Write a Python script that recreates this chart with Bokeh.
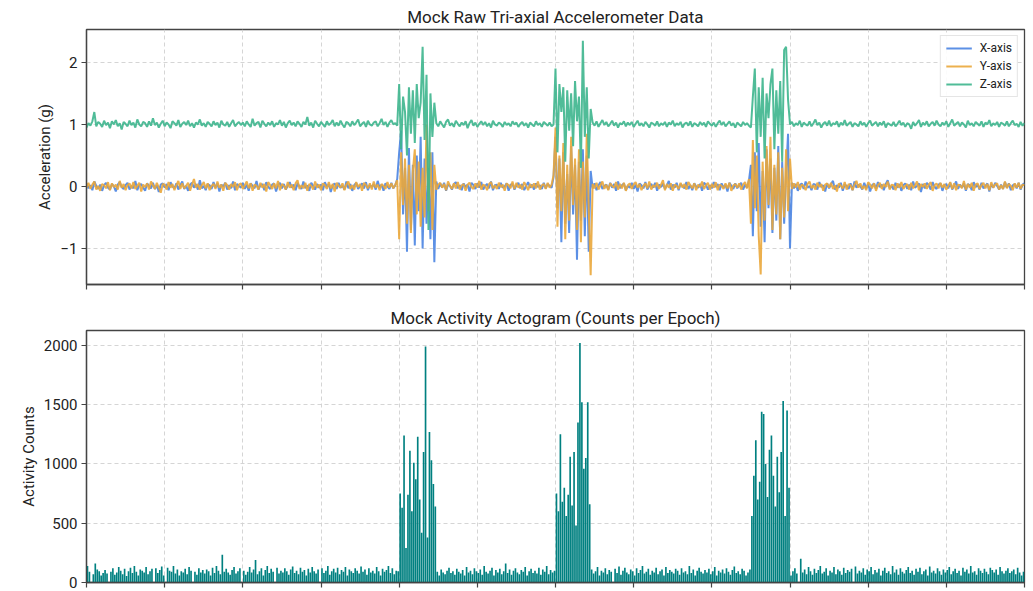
import numpy as np
from bokeh.plotting import figure
from bokeh.layouts import column
from bokeh.models import Range1d, FixedTicker, Legend, LegendItem
from bokeh.embed import file_html
from bokeh.resources import INLINE

# ---------------- data ----------------
STEP_H = 0.05  # sample spacing in hours
x_ticks = [0, 2, 4, 6, 8, 10, 12, 14, 16, 18, 20, 22, 24]
acc_ticks = [-1, 0, 1, 2]
count_ticks = [0, 500, 1000, 1500, 2000]

acc_x = [
 0.05,-0.03,0.02,-0.06,0.08,0.01,-0.04,0.03,-0.07,0.02,0.06,-0.02,-0.05,0.04,0.00,-0.08,0.03,0.07,-0.01,-0.04,
 0.02,0.06,-0.05,0.01,-0.03,0.09,-0.06,0.02,0.04,-0.02,-0.07,0.05,0.01,-0.03,0.06,-0.04,0.02,-0.09,0.03,0.05,
 -0.02,0.04,-0.06,0.07,0.00,-0.03,0.05,-0.05,0.02,0.08,-0.04,0.01,-0.07,0.03,0.06,-0.02,0.04,-0.05,0.10,-0.03,
 0.01,-0.06,0.04,0.02,-0.04,0.07,-0.02,0.05,-0.08,0.03,0.00,0.06,-0.05,0.02,-0.03,0.08,-0.06,0.04,0.01,-0.02,
 0.06,-0.04,0.03,-0.07,0.05,0.01,-0.03,0.09,-0.05,0.02,0.04,-0.06,0.07,-0.01,-0.04,0.03,0.05,-0.08,0.02,0.06,
 -0.03,0.04,-0.05,0.01,0.07,-0.02,0.03,-0.06,0.05,0.00,-0.04,0.08,-0.03,0.02,-0.07,0.06,0.01,-0.05,0.04,-0.02,
 0.03,-0.06,0.07,-0.01,0.04,-0.09,0.02,0.05,-0.04,0.06,-0.02,0.01,-0.05,0.08,-0.03,0.04,-0.07,0.02,0.06,-0.04,
 0.01,0.05,-0.03,0.07,-0.06,0.02,-0.01,0.04,-0.05,0.09,-0.02,0.03,-0.07,0.05,0.00,-0.04,0.06,-0.03,0.02,0.12,
 0.55,0.90,-0.45,0.30,-1.05,0.62,-0.70,0.35,-0.95,0.50,-0.40,0.80,-1.00,0.45,-0.60,0.30,-0.85,0.55,-1.22,
 0.08,-0.04,0.05,-0.02,0.06,-0.07,0.03,0.01,-0.05,0.04,0.07,-0.03,0.02,-0.06,0.05,-0.01,0.03,-0.08,0.06,0.02,
 -0.04,0.05,-0.02,0.07,-0.05,0.01,0.04,-0.03,0.08,-0.06,0.02,0.03,-0.04,0.06,-0.02,0.00,0.05,-0.07,0.03,0.04,
 -0.05,0.02,0.06,-0.03,0.04,-0.06,0.01,0.07,-0.02,0.03,-0.05,0.05,-0.01,0.02,-0.04,0.06,-0.03,0.04,0.01,-0.02,0.15,
 0.80,-0.35,0.45,-0.90,0.55,-0.60,0.20,-0.75,0.65,-0.45,0.35,-1.18,0.40,-0.55,0.60,-0.80,0.50,-1.05,0.25,
 -0.03,0.05,-0.06,0.02,0.07,-0.04,0.01,0.03,-0.05,0.06,-0.02,0.04,-0.07,0.08,-0.03,0.02,0.05,-0.06,0.01,-0.02,
 0.06,-0.04,0.03,-0.08,0.05,0.02,-0.03,0.07,-0.05,0.01,0.04,-0.02,0.06,-0.07,0.03,-0.01,0.05,-0.04,0.02,0.09,
 -0.05,0.03,-0.02,0.06,-0.06,0.04,0.01,-0.03,0.07,-0.04,0.02,-0.06,0.05,0.00,-0.02,0.04,-0.07,0.06,0.03,-0.05,
 0.02,-0.03,0.07,-0.01,0.04,-0.06,0.05,-0.02,0.03,-0.08,0.06,0.01,-0.04,0.05,-0.03,0.02,0.06,-0.05,0.03,-0.02,0.10,
 0.35,-0.80,0.55,-0.40,0.70,-0.65,0.25,-0.90,0.60,-0.35,0.45,-0.75,0.30,-0.55,0.65,-0.85,0.40,-0.60,0.20,0.85,-1.00,
 0.06,-0.03,0.04,-0.07,0.02,0.05,-0.04,0.08,-0.02,0.01,-0.06,0.04,0.03,-0.05,0.07,-0.01,0.02,-0.08,0.05,-0.03,
 0.04,0.09,-0.05,0.02,-0.02,0.06,-0.07,0.03,0.01,-0.04,0.05,-0.06,0.08,-0.02,0.03,0.00,-0.05,0.06,-0.03,0.04,
 -0.08,0.02,0.05,-0.04,0.07,-0.01,0.03,-0.06,0.04,0.10,-0.03,0.01,-0.05,0.06,-0.02,0.04,-0.07,0.02,0.05,-0.04,
 0.03,-0.06,0.08,-0.02,0.01,0.05,-0.09,0.04,-0.03,0.06,0.02,-0.05,0.07,-0.01,-0.04,0.03,0.05,-0.07,0.02,0.04,
 -0.03,0.06,-0.05,0.01,0.08,-0.04,0.03,-0.02,0.05,-0.07,0.04,0.02,-0.06,0.07,-0.01,0.03,-0.05,0.06,-0.03,0.01,
 0.05,-0.08,0.04,-0.02,0.06,0.01,-0.05,0.03,-0.04,0.07,-0.02,0.05,-0.06,0.02,0.04,-0.03,0.06,-0.05,0.03,0.05,
]

acc_y = [
 -0.02,0.06,-0.04,0.03,0.08,-0.05,0.01,-0.07,0.04,0.02,-0.03,0.07,-0.06,0.05,-0.01,0.03,-0.05,0.09,-0.02,0.04,
 -0.06,0.02,0.05,-0.03,0.07,-0.04,0.01,0.06,-0.08,0.03,-0.01,0.05,-0.05,0.08,0.02,-0.04,0.06,-0.02,-0.10,0.04,
 0.03,-0.05,0.07,-0.02,0.04,-0.06,0.02,0.09,-0.04,0.05,-0.03,0.01,0.06,-0.07,0.03,0.12,-0.02,0.04,-0.05,0.02,
 0.07,-0.03,0.05,-0.06,0.01,0.04,-0.04,0.08,-0.02,0.03,-0.07,0.06,0.02,-0.05,0.04,-0.01,0.07,-0.06,0.03,0.05,
 -0.04,0.02,0.08,-0.03,0.05,-0.07,0.03,0.01,-0.05,0.06,-0.02,0.04,-0.08,0.07,0.02,-0.04,0.05,-0.03,0.09,-0.06,
 0.04,0.01,-0.05,0.07,-0.02,0.03,-0.06,0.05,0.10,-0.04,0.02,-0.03,0.06,-0.07,0.04,0.01,-0.05,0.08,-0.02,0.03,
 -0.06,0.05,0.02,-0.04,0.07,-0.03,0.04,-0.08,0.06,0.01,-0.02,0.05,-0.06,0.03,0.08,-0.04,0.02,-0.05,0.07,-0.01,
 0.04,-0.07,0.06,0.02,-0.03,0.05,-0.05,0.08,-0.02,0.03,-0.06,0.04,0.01,-0.04,0.07,-0.02,0.05,-0.03,0.03,0.10,
 -0.85,0.55,-0.30,0.45,-0.60,0.35,-0.75,0.25,0.60,-0.45,0.40,-0.65,0.30,-0.50,1.00,-0.40,0.55,-0.70,0.35,
 -0.05,0.03,0.06,-0.02,0.04,-0.06,0.08,0.01,-0.04,0.05,-0.03,0.07,-0.05,0.02,0.04,-0.07,0.03,0.06,-0.01,-0.04,
 0.05,-0.02,0.09,-0.05,0.03,0.01,-0.06,0.04,0.07,-0.03,0.02,-0.04,0.06,-0.01,0.03,-0.07,0.05,0.02,-0.03,0.08,
 -0.04,0.06,-0.02,0.03,-0.05,0.07,0.01,-0.06,0.04,-0.02,0.05,-0.03,0.08,-0.05,0.02,0.04,-0.04,0.06,-0.02,0.03,0.18,
 0.95,-0.65,0.50,-0.40,0.70,-0.85,0.35,-0.55,0.80,-0.30,0.45,-0.70,0.60,-0.90,0.40,-0.50,0.85,-0.35,-1.43,
 0.04,-0.03,0.06,-0.05,0.02,0.08,-0.04,0.03,-0.06,0.05,0.01,-0.02,0.07,-0.05,0.04,-0.03,0.06,-0.07,0.02,0.05,
 -0.04,0.03,0.07,-0.02,0.04,-0.06,0.01,0.05,-0.03,0.08,-0.05,0.02,-0.01,0.06,-0.04,0.03,0.10,-0.06,0.04,-0.02,
 0.05,-0.07,0.03,0.01,-0.04,0.06,-0.02,0.04,-0.05,0.07,0.02,-0.03,0.05,-0.06,0.03,-0.01,0.08,-0.04,0.02,0.06,
 -0.05,0.04,-0.02,0.07,-0.06,0.03,0.01,-0.04,0.05,-0.03,0.06,-0.07,0.02,0.04,-0.02,0.05,-0.05,0.03,0.07,-0.03,0.12,
 -0.60,0.75,-0.35,0.50,-0.80,-1.42,0.40,-0.55,0.65,-0.30,0.80,-0.70,0.35,-0.45,0.55,-0.85,0.30,-0.50,0.60,-0.40,0.45,
 -0.04,0.05,-0.02,0.07,-0.05,0.03,0.01,-0.06,0.04,0.08,-0.03,0.02,-0.05,0.06,-0.01,0.04,-0.07,0.03,0.05,-0.02,
 0.06,-0.04,0.02,-0.08,0.05,0.01,-0.03,0.07,-0.05,0.04,0.02,-0.06,0.03,0.09,-0.02,0.05,-0.04,0.01,-0.06,0.07,
 0.03,-0.03,0.05,-0.07,0.02,0.06,-0.04,0.04,-0.01,0.08,-0.05,0.03,0.02,-0.06,0.05,-0.02,0.07,-0.04,0.01,0.04,
 -0.05,0.06,-0.03,0.02,0.08,-0.06,0.04,-0.01,0.05,-0.04,0.03,0.07,-0.07,0.02,0.05,-0.03,0.06,-0.02,0.04,-0.05,
 0.01,0.07,-0.04,0.05,-0.06,0.03,0.02,-0.03,0.09,-0.05,0.04,-0.02,0.06,-0.07,0.03,0.05,-0.04,0.02,0.06,-0.03,
 0.04,-0.06,0.07,-0.02,0.03,0.05,-0.05,0.02,-0.04,0.08,-0.03,0.04,0.01,-0.06,0.05,-0.02,0.06,-0.04,0.03,0.02,
]

acc_z = [
 0.95,1.02,0.98,1.05,1.20,0.97,1.04,1.01,0.96,1.06,0.99,1.03,0.94,1.05,1.00,1.07,0.97,1.02,0.92,1.04,
 1.01,0.97,1.06,0.99,1.03,0.95,1.08,1.00,0.97,1.04,1.02,0.96,1.05,0.98,1.10,0.99,1.03,0.95,1.01,1.06,
 0.97,1.03,1.00,0.94,1.05,1.02,0.98,1.07,0.96,1.01,1.04,0.99,1.06,0.97,1.02,0.95,1.03,1.00,1.08,0.98,
 1.02,0.96,1.04,1.01,0.97,1.05,0.99,1.03,0.95,1.06,1.00,0.98,1.04,0.96,1.02,1.07,0.97,1.01,1.04,0.99,
 1.03,0.97,1.05,1.00,0.96,1.09,0.98,1.02,1.04,0.95,1.06,1.01,0.97,1.03,0.99,1.05,0.96,1.02,1.00,1.07,
 0.98,1.04,0.95,1.02,1.06,0.99,1.03,0.97,1.05,1.01,0.96,1.04,1.00,1.12,0.98,1.03,0.95,1.06,1.01,0.97,
 1.04,1.00,0.96,1.05,0.99,1.02,1.07,0.97,1.03,0.98,1.06,1.00,0.95,1.04,1.02,0.97,1.05,0.99,1.03,1.08,
 0.97,1.01,1.04,0.96,1.06,1.00,0.98,1.03,1.05,0.97,1.02,1.09,0.99,1.04,0.96,1.03,1.07,1.00,1.02,0.98,
 1.65,0.60,1.45,1.20,0.50,1.60,0.85,1.55,0.70,1.65,1.10,1.35,2.25,0.75,1.80,-0.70,1.50,0.80,1.35,
 1.02,0.97,1.05,1.00,0.95,1.04,1.08,0.98,1.02,0.96,1.06,1.01,0.97,1.03,0.99,1.05,0.94,1.02,1.07,0.98,
 1.03,0.96,1.01,1.05,0.99,1.04,0.97,1.02,0.95,1.06,1.00,0.98,1.03,1.01,0.96,1.04,0.99,1.02,0.97,1.05,
 1.00,1.03,0.96,1.01,1.04,0.98,1.02,0.95,1.03,1.00,0.97,1.05,0.99,1.02,0.96,1.04,1.01,0.98,1.03,0.97,1.00,
 1.90,0.55,1.65,1.20,1.60,0.40,1.55,0.90,1.50,0.65,1.70,1.05,1.45,0.30,2.35,0.80,1.60,0.45,1.25,
 1.03,0.98,1.05,0.96,1.02,1.07,0.99,1.04,0.97,1.01,1.06,0.98,1.03,0.95,1.02,1.00,1.05,0.97,1.03,0.99,
 1.04,0.96,1.01,1.06,0.98,1.02,0.97,1.04,1.00,0.95,1.03,1.01,0.98,1.05,0.97,1.02,0.99,1.04,0.96,1.03,
 1.00,1.06,0.97,1.02,0.99,1.04,0.95,1.01,1.03,0.98,1.05,0.96,1.02,1.00,0.97,1.04,0.99,1.03,0.96,1.05,
 1.01,0.98,1.03,0.96,1.02,1.06,0.99,1.04,0.97,1.01,1.05,0.98,1.02,0.95,1.03,1.00,0.97,1.04,0.99,1.02,0.98,
 0.95,1.45,1.90,0.55,1.60,0.80,1.75,0.45,1.50,1.10,1.65,1.90,0.60,1.55,0.85,1.70,0.40,2.20,2.25,1.40,1.00,
 1.04,0.97,1.02,0.99,1.06,0.96,1.03,1.00,0.98,1.05,0.97,1.02,1.08,0.99,1.03,0.95,1.01,1.04,0.98,1.06,
 0.97,1.02,1.00,1.05,0.96,1.03,0.99,1.07,0.98,1.01,1.04,0.96,1.02,1.00,0.97,1.05,0.99,1.03,0.96,1.02,
 1.06,0.98,1.01,1.04,0.97,1.03,0.99,1.05,0.95,1.02,1.00,0.98,1.04,0.97,1.01,1.06,0.99,1.03,0.96,1.02,
 1.00,0.93,1.04,0.98,1.02,1.07,0.96,1.03,0.99,1.05,0.97,1.01,1.04,0.98,1.06,1.00,0.97,1.03,0.99,1.05,
 0.96,1.02,1.08,0.98,1.01,1.04,0.97,1.03,1.00,0.95,1.06,0.99,1.02,0.97,1.04,1.01,0.98,1.05,0.96,1.03,
 1.00,1.07,0.97,1.02,0.99,1.04,0.96,1.03,1.01,0.98,1.05,0.97,1.02,1.06,0.99,1.01,0.96,1.04,0.98,1.02,
]

activity_counts = [
 140,90,0,70,160,110,95,60,80,105,75,0,90,120,65,85,130,100,70,115,
 55,95,125,80,140,90,60,110,100,85,130,70,95,115,0,120,80,105,135,60,
 0,125,100,90,140,75,110,60,95,85,115,70,130,100,0,90,65,120,85,105,
 75,110,95,60,125,80,140,100,70,235,90,115,85,65,105,130,75,95,120,0,
 100,65,90,130,85,110,190,70,95,120,60,105,140,80,115,90,0,125,75,100,
 85,120,95,65,110,135,80,100,70,125,90,105,60,115,85,130,95,75,110,0,
 120,80,100,140,65,95,115,85,125,70,105,90,130,60,110,95,80,120,100,75,
 135,90,110,65,120,85,100,75,130,95,60,115,90,105,140,80,120,70,100,95,
 750,630,1240,290,740,1110,600,1010,870,1230,700,420,1100,1990,380,1270,1030,830,640,
 90,60,110,85,70,100,125,80,95,65,115,90,75,105,60,130,85,100,70,120,
 95,80,110,65,140,90,75,100,125,60,105,85,115,70,95,160,80,110,65,100,
 120,85,70,105,90,130,60,95,115,80,100,75,125,65,110,90,140,70,105,85,100,
 750,600,1250,680,800,560,740,1060,650,1100,480,1350,2020,1520,960,1050,1520,660,
 110,75,95,130,60,100,85,120,70,105,90,0,115,80,135,65,100,125,85,70,
 110,95,60,120,80,105,140,75,90,115,65,100,85,125,70,95,110,60,130,80,
 105,90,75,115,100,65,120,85,95,70,140,80,110,60,100,125,90,75,105,85,
 115,70,95,130,60,100,85,110,75,120,90,65,105,135,80,95,70,115,100,60,85,110,
 560,900,1200,700,850,1440,1420,1000,720,1120,1240,900,640,1060,760,1100,1530,560,1450,800,
 60,95,120,75,0,200,85,110,70,130,95,65,115,80,105,140,75,90,120,60,
 100,85,130,70,110,95,65,125,80,105,90,115,0,135,75,100,85,120,65,110,
 95,130,70,105,85,115,60,100,125,80,95,70,140,85,110,65,120,90,75,105,
 130,80,100,65,115,90,125,70,95,110,60,135,85,100,75,120,95,65,110,85,
 105,130,70,95,115,80,100,60,125,90,110,75,140,85,95,65,120,100,80,115,
 90,70,125,105,85,110,65,130,95,75,100,120,80,95,110,70,125,85,60,90,
]

t_acc = np.arange(len(acc_x)) * STEP_H
t_cnt = np.arange(len(activity_counts)) * STEP_H + STEP_H / 2

FONT = "Roboto"
TXT = "#222222"
GRID = "#d0d0d0"
FRAME = "#444444"

def style(p, yticks):
    p.background_fill_color = "white"
    p.border_fill_color = "white"
    p.outline_line_color = FRAME
    p.outline_line_width = 1.3
    p.title.align = "center"
    p.title.text_font = FONT
    p.title.text_font_size = "17px"
    p.title.text_font_style = "normal"
    p.title.text_color = TXT
    p.title.standoff = 5
    p.xaxis.ticker = FixedTicker(ticks=x_ticks)
    p.xaxis.major_label_overrides = {t: "" for t in x_ticks}
    p.xaxis.major_label_standoff = 0
    p.yaxis.ticker = FixedTicker(ticks=yticks)
    for ax in (p.xaxis, p.yaxis):
        ax.axis_line_color = FRAME
        ax.axis_line_width = 1.3
        ax.major_tick_line_color = FRAME
        ax.major_tick_line_width = 1.2
        ax.major_tick_out = 5
        ax.major_tick_in = 0
        ax.minor_tick_line_color = None
    p.yaxis.major_label_text_font = FONT
    p.yaxis.major_label_text_font_size = "15px"
    p.yaxis.major_label_text_color = TXT
    p.yaxis.major_label_standoff = 4
    p.yaxis.axis_label_text_font = FONT
    p.yaxis.axis_label_text_font_size = "15px"
    p.yaxis.axis_label_text_font_style = "normal"
    p.yaxis.axis_label_text_color = TXT
    p.yaxis.axis_label_standoff = 3
    for g in (p.xgrid, p.ygrid):
        g.grid_line_color = GRID
        g.grid_line_dash = "4 3"
        g.grid_line_width = 0.9
    p.xgrid.ticker = FixedTicker(ticks=x_ticks)
    p.ygrid.ticker = FixedTicker(ticks=yticks)

# ---------------- top panel ----------------
top = figure(width=1033, height=300, output_backend="svg", toolbar_location=None,
             x_range=Range1d(0, 24), y_range=Range1d(-1.58, 2.53),
             min_border_left=86, min_border_right=9, min_border_top=29, min_border_bottom=16,
             title="Mock Raw Tri-axial Accelerometer Data")
style(top, acc_ticks)
top.yaxis.axis_label = "Acceleration (g)"

rx = top.line(t_acc, acc_x, line_color="#4A84E2", line_width=2.0, line_alpha=0.9)
ry = top.line(t_acc, acc_y, line_color="#EAA73B", line_width=2.0, line_alpha=0.9)
rz = top.line(t_acc, acc_z, line_color="#3DB58D", line_width=2.0, line_alpha=0.9)

leg = Legend(items=[LegendItem(label="X-axis", renderers=[rx]),
                    LegendItem(label="Y-axis", renderers=[ry]),
                    LegendItem(label="Z-axis", renderers=[rz])],
             location="top_right")
leg.label_text_font = FONT
leg.label_text_font_size = "12px"
leg.label_text_color = TXT
leg.border_line_color = "#cccccc"
leg.border_line_width = 1
leg.background_fill_alpha = 0.9
leg.glyph_width = 26
leg.glyph_height = 14
leg.label_height = 14
leg.spacing = 4
leg.padding = 5
leg.margin = 6
leg.label_standoff = 8
top.add_layout(leg)

# ---------------- bottom panel ----------------
bot = figure(width=1033, height=291, output_backend="svg", toolbar_location=None,
             x_range=Range1d(0, 24), y_range=Range1d(0, 2125),
             min_border_left=86, min_border_right=9, min_border_top=30, min_border_bottom=9,
             title="Mock Activity Actogram (Counts per Epoch)")
style(bot, count_ticks)
bot.yaxis.axis_label = "Activity Counts"
bot.vbar(x=t_cnt, top=activity_counts, width=STEP_H * 0.85, bottom=0,
         fill_color="#008080", line_color=None)

layout = column(top, bot, spacing=0)
open("out.html", "w").write(file_html(layout, INLINE))
